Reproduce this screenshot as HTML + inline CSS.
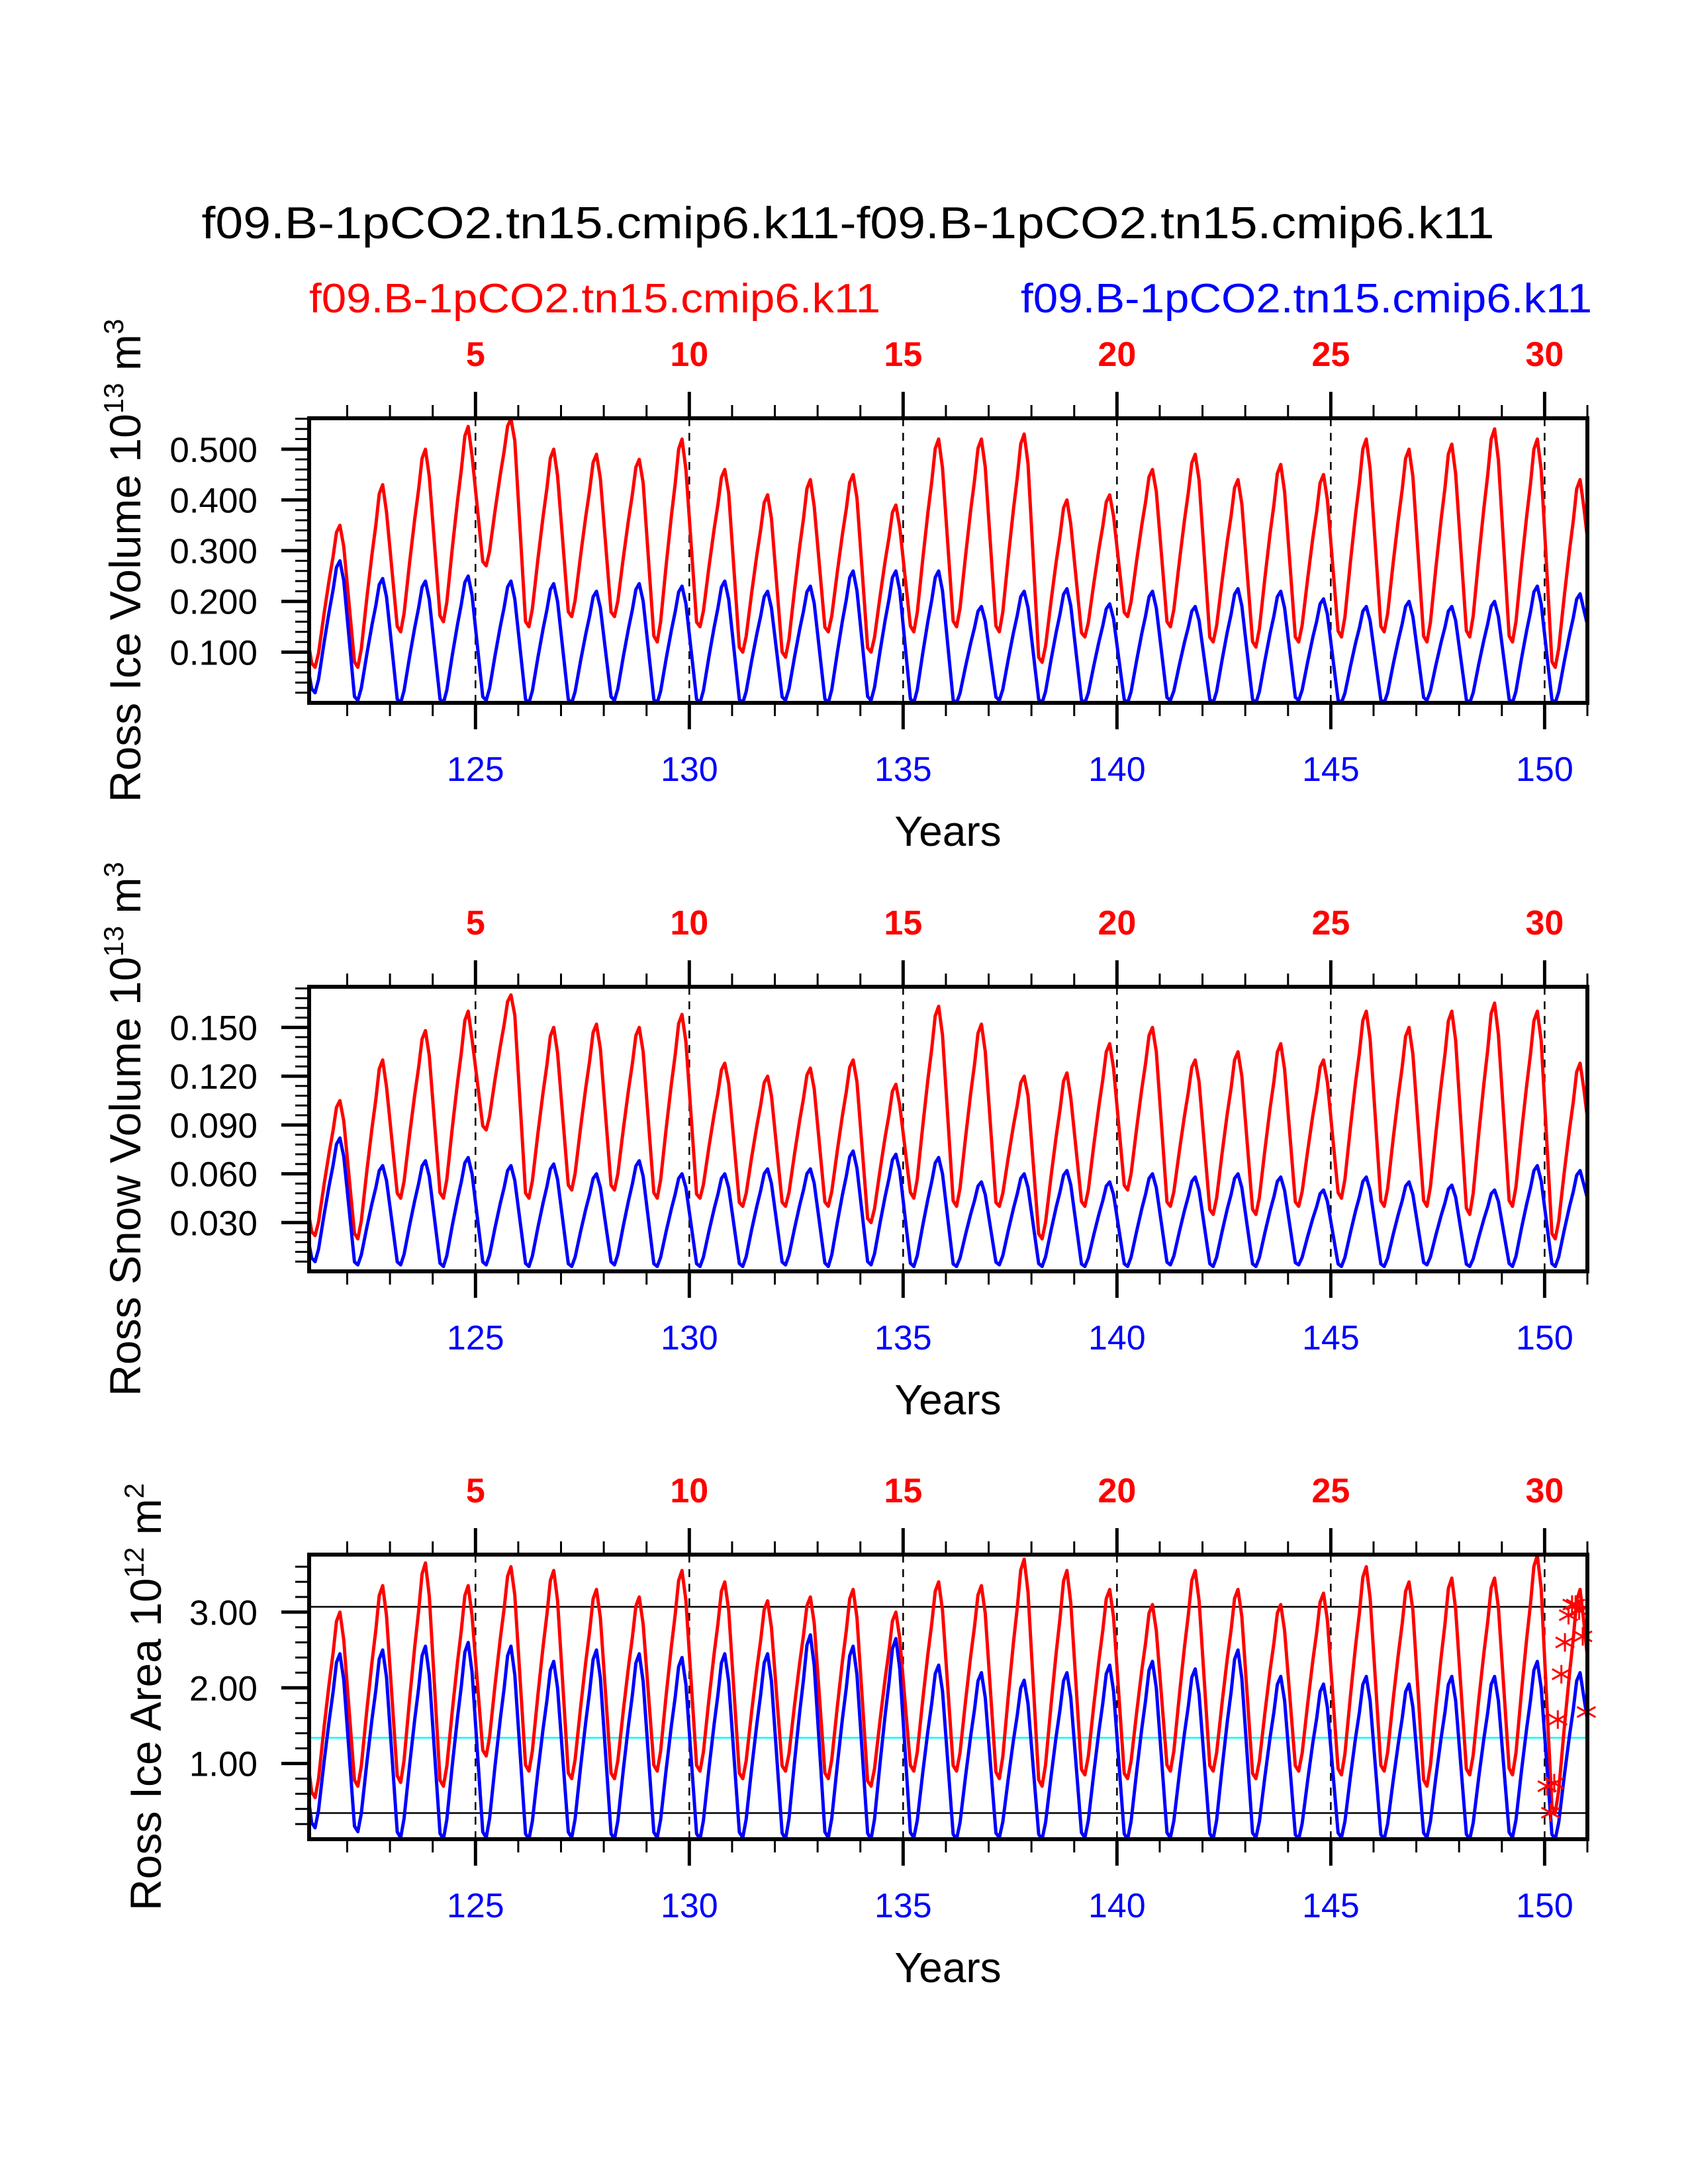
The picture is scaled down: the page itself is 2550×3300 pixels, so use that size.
<!DOCTYPE html>
<html><head><meta charset="utf-8"><style>
html,body{margin:0;padding:0;background:#fff}
svg{display:block;font-family:"Liberation Sans",Arial,sans-serif}
</style></head><body>
<svg id="chart" width="2550" height="3300" viewBox="0 0 2550 3300" xmlns="http://www.w3.org/2000/svg">
<rect x="0" y="0" width="2550" height="3300" fill="#fff"/>
<text x="1281" y="360" font-size="68" text-anchor="middle" textLength="1953" lengthAdjust="spacingAndGlyphs">f09.B-1pCO2.tn15.cmip6.k11-f09.B-1pCO2.tn15.cmip6.k11</text>
<text x="467" y="472" font-size="62" fill="#ff0000" textLength="863" lengthAdjust="spacingAndGlyphs">f09.B-1pCO2.tn15.cmip6.k11</text>
<text x="1542" y="472" font-size="62" fill="#0000ff" textLength="863" lengthAdjust="spacingAndGlyphs">f09.B-1pCO2.tn15.cmip6.k11</text>
<g id="plots"></g>
</svg>
<script>
// ---- data (annual extremes) ----
const years = [121,122,123,124,125,126,127,128,129,130,131,132,133,134,135,136,137,138,139,140,141,142,143,144,145,146,147,148,149,150];
const volRedMax = [0.35,0.43,0.50,0.545,0.56,0.50,0.49,0.48,0.52,0.46,0.41,0.44,0.45,0.39,0.52,0.52,0.53,0.40,0.41,0.46,0.49,0.44,0.47,0.45,0.52,0.50,0.51,0.54,0.52,0.44];
const volRedMin = [0.07,0.07,0.14,0.16,0.27,0.15,0.17,0.17,0.12,0.15,0.10,0.09,0.14,0.10,0.14,0.15,0.14,0.08,0.13,0.17,0.15,0.12,0.11,0.12,0.13,0.14,0.12,0.13,0.12,0.07];
const volBlueMax = [0.28,0.245,0.24,0.25,0.24,0.235,0.22,0.235,0.23,0.24,0.22,0.23,0.26,0.26,0.26,0.19,0.22,0.225,0.195,0.22,0.19,0.225,0.22,0.205,0.19,0.20,0.19,0.20,0.23,0.215];
const volBlueMin = [0.02,0.005,0.0,0.0,0.005,0.0,0.0,0.005,0.0,0.0,0.0,0.005,0.0,0.005,0.0,0.0,0.005,0.0,0.0,0.0,0.005,0.0,0.0,0.005,0.0,0.0,0.005,0.0,0.0,0.0];
const snowRedMax = [0.105,0.13,0.148,0.16,0.17,0.15,0.152,0.15,0.158,0.128,0.12,0.125,0.13,0.115,0.163,0.152,0.12,0.122,0.14,0.15,0.13,0.135,0.14,0.13,0.16,0.15,0.16,0.165,0.16,0.128];
const snowRedMin = [0.022,0.02,0.045,0.045,0.087,0.045,0.05,0.05,0.045,0.045,0.04,0.04,0.04,0.03,0.045,0.04,0.04,0.02,0.04,0.05,0.04,0.035,0.035,0.04,0.045,0.04,0.04,0.035,0.04,0.02];
const snowBlueMax = [0.082,0.065,0.068,0.07,0.065,0.066,0.06,0.068,0.06,0.06,0.063,0.063,0.074,0.072,0.07,0.055,0.06,0.062,0.055,0.06,0.058,0.06,0.058,0.05,0.058,0.055,0.053,0.05,0.065,0.062];
const snowBlueMin = [0.006,0.004,0.004,0.003,0.004,0.003,0.003,0.004,0.003,0.003,0.003,0.004,0.003,0.004,0.003,0.003,0.004,0.003,0.003,0.003,0.004,0.003,0.003,0.004,0.003,0.003,0.004,0.003,0.003,0.003];
const areaRedMax = [3.0,3.35,3.65,3.35,3.6,3.55,3.3,3.2,3.55,3.4,3.15,3.2,3.3,3.0,3.4,3.35,3.7,3.55,3.3,3.1,3.55,3.3,3.1,3.25,3.6,3.4,3.45,3.45,3.75,3.3];
const areaRedMin = [0.55,0.7,0.75,0.7,1.1,0.9,0.8,0.8,0.9,0.9,0.8,0.9,0.8,0.7,0.9,0.9,0.8,0.7,0.85,0.8,0.9,0.9,0.8,0.9,0.85,0.9,0.7,0.85,0.85,0.35];
const areaBlueMax = [2.45,2.5,2.55,2.6,2.55,2.35,2.5,2.45,2.4,2.45,2.45,2.7,2.55,2.65,2.3,2.2,2.1,2.2,2.3,2.35,2.25,2.5,2.15,2.05,2.15,2.05,2.15,2.15,2.35,2.2];
const areaBlueMin = [0.15,0.1,0.02,0.0,0.02,0.0,0.02,0.0,0.02,0.0,0.02,0.0,0.02,0.0,0.02,0.0,0.02,0.0,0.02,0.0,0.02,0.0,0.02,0.0,0.02,0.0,0.02,0.0,0.02,0.0];
// seasonal cycle shape within a year (fraction of year, fraction of min→max range)
const seasonPhase = [0.17,0.25,0.33,0.46,0.58,0.67,0.75,0.83,0.92];
const seasonFrac  = [0.03,0.0,0.1,0.38,0.62,0.78,0.95,1.0,0.85];
const markerMonths = [0,1,2,3,4,5,6,7,8,9,10,11];
const markerValues = [0.70,0.35,0.74,1.58,2.18,2.60,2.96,3.10,3.10,3.02,2.68,1.68];
const refLineValues = [3.07,0.345];
const refCyanValue = [1.34];
const topTickLabels = ["5","10","15","20","25","30"];
const bottomTickLabels = ["125","130","135","140","145","150"];
const volTicks = [0.1,0.2,0.3,0.4,0.5];
const volTickLabels = ["0.100","0.200","0.300","0.400","0.500"];
const snowTicks = [0.03,0.06,0.09,0.12,0.15];
const snowTickLabels = ["0.030","0.060","0.090","0.120","0.150"];
const areaTicks = [1,2,3];
const areaTickLabels = ["1.00","2.00","3.00"];

const NS = "http://www.w3.org/2000/svg";
const X0 = 467, X1 = 2398, XMIN = 121.11, XMAX = 151.0, PH = 430;
function xs(t){ return X0 + (t - XMIN) / (XMAX - XMIN) * (X1 - X0); }
function mk(tag, attrs, parent){ const e = document.createElementNS(NS, tag); for (const k in attrs) e.setAttribute(k, attrs[k]); parent.appendChild(e); return e; }
const root = document.getElementById('plots');

function seriesPoints(mins, maxs){
  const pts = [];
  for (let i = 0; i < years.length; i++){
    for (let k = 0; k < seasonPhase.length; k++){
      let lo = mins[i];
      if (k === 0 && i > 0) lo = mins[i] + (maxs[i-1] - mins[i]) * 0.0;
      pts.push([years[i] + seasonPhase[k], lo + (maxs[i] - lo) * seasonFrac[k]]);
    }
  }
  return pts;
}
function drawSeries(g, pts, ys, color, name, top){
  const cid = 'clip-' + name;
  const cp = mk('clipPath', {id: cid}, g);
  mk('rect', {x: X0, y: top, width: X1 - X0, height: PH}, cp);
  let d = 'M' + xs(XMIN - 0.1).toFixed(1) + ',' + ys(pts[0][1] + (pts[7][1] - pts[0][1]) * 0.3).toFixed(1);
  for (const p of pts) d += 'L' + xs(p[0]).toFixed(1) + ',' + ys(p[1]).toFixed(1);
  const last = pts[pts.length - 1], lo = pts[1];
  d += 'L' + xs(XMAX + 0.1).toFixed(1) + ',' + ys(last[1] * 0.65).toFixed(1);
  const path = mk('path', {d: d, fill: 'none', stroke: color, 'stroke-width': 5, 'stroke-linejoin': 'round', 'clip-path': 'url(#' + cid + ')'}, g);
  
  
}

function panel(cfg){
  const top = cfg.top, bot = top + PH;
  const ys = v => bot - (v - cfg.ymin) / (cfg.ymax - cfg.ymin) * PH;
  const g = mk('g', {}, root);
  
  
  if (cfg.refs){
    for (const v of refLineValues){
      const l = mk('line', {x1: X0, x2: X1, y1: ys(v), y2: ys(v), stroke: '#000', 'stroke-width': 2.5}, g);
      
      
    }
    for (const v of refCyanValue){
      const l = mk('line', {x1: X0, x2: X1, y1: ys(v), y2: ys(v), stroke: '#00ffff', 'stroke-width': 2.5}, g);
      
      
    }
  }
  for (let y = 125; y <= 150; y += 5){
    const l = mk('line', {x1: xs(y), x2: xs(y), y1: top, y2: bot, stroke: '#000', 'stroke-width': 2.5, 'stroke-dasharray': '12,10'}, g);
    
    
  }
  drawSeries(g, seriesPoints(cfg.redMin, cfg.redMax), ys, '#ff0000', cfg.name + '-red-series', top);
  drawSeries(g, seriesPoints(cfg.blueMin, cfg.blueMax), ys, '#0000ff', cfg.name + '-blue-series', top);
  if (cfg.markers){
    for (let i = 0; i < markerMonths.length; i++){
      const cx = xs(150 + (markerMonths[i] + 0.7) / 12), cy = ys(markerValues[i]), r = 14;
      const m = mk('path', {d: `M${cx-r},${cy-r*0.55}L${cx+r},${cy+r*0.55}M${cx-r},${cy+r*0.55}L${cx+r},${cy-r*0.55}M${cx},${cy-r}L${cx},${cy+r}`, stroke: '#ff0000', 'stroke-width': 3, fill: 'none'}, g);
      
      
    }
  }
  const fr = mk('rect', {x: X0, y: top, width: X1 - X0, height: PH, fill: 'none', stroke: '#000', 'stroke-width': 6}, g);
  
  
  for (let y = 122; y <= 151; y++){
    const major = (y % 5 === 0);
    const len = major ? 40 : 20;
    mk('line', {x1: xs(y), x2: xs(y), y1: top, y2: top - len, stroke: '#000', 'stroke-width': major ? 5 : 3}, g);
    mk('line', {x1: xs(y), x2: xs(y), y1: bot, y2: bot + len, stroke: '#000', 'stroke-width': major ? 5 : 3}, g);
  }
  for (let i = 0; i < 6; i++){
    const yr = 125 + i * 5;
    const t1 = mk('text', {x: xs(yr), y: top - 79, 'font-size': 52, 'font-weight': 'bold', fill: '#ff0000', 'text-anchor': 'middle'}, g);
    t1.textContent = topTickLabels[i];
    
    
    const t2 = mk('text', {x: xs(yr), y: top + 548, 'font-size': 52, fill: '#0000ff', 'text-anchor': 'middle'}, g);
    t2.textContent = bottomTickLabels[i];
    
    
  }
  const xt = mk('text', {x: 1432, y: top + 646, 'font-size': 64, 'text-anchor': 'middle'}, g);
  xt.textContent = 'Years';
  
  
  for (let v = cfg.ymin + cfg.minor; v <= cfg.ymax + 1e-9; v += cfg.minor){
    mk('line', {x1: X0, x2: X0 - 21, y1: ys(v), y2: ys(v), stroke: '#000', 'stroke-width': 3}, g);
  }
  for (let i = 0; i < cfg.ticks.length; i++){
    const v = cfg.ticks[i];
    mk('line', {x1: X0, x2: X0 - 42, y1: ys(v), y2: ys(v), stroke: '#000', 'stroke-width': 5}, g);
    const t = mk('text', {x: 389, y: ys(v) + 19, 'font-size': 53, 'text-anchor': 'end'}, g);
    t.textContent = cfg.tickLabels[i];
    
    
  }
  const cx = cfg.titleX, cy = top + 215;
  const yt = mk('text', {x: cx, y: cy, 'font-size': 66, 'text-anchor': 'middle', transform: `rotate(-90 ${cx} ${cy})`}, g);
  
  
  const a = mk('tspan', {}, yt); a.textContent = cfg.title + ' 10';
  const b = mk('tspan', {dy: -26, 'font-size': 42}, yt); b.textContent = cfg.exp;
  const c = mk('tspan', {dy: 26}, yt); c.textContent = '\u00a0m';
  const d = mk('tspan', {dy: -26, 'font-size': 42}, yt); d.textContent = cfg.unitExp;
}

panel({name: 'ice-volume-panel', top: 632, ymin: 0, ymax: 0.561, minor: 0.02, ticks: volTicks, tickLabels: volTickLabels,
  redMin: volRedMin, redMax: volRedMax, blueMin: volBlueMin, blueMax: volBlueMax, title: 'Ross Ice Volume', exp: '13', unitExp: '3', titleX: 212});
panel({name: 'snow-volume-panel', top: 1491, ymin: 0, ymax: 0.175, minor: 0.006, ticks: snowTicks, tickLabels: snowTickLabels,
  redMin: snowRedMin, redMax: snowRedMax, blueMin: snowBlueMin, blueMax: snowBlueMax, title: 'Ross Snow Volume', exp: '13', unitExp: '3', titleX: 212});
panel({name: 'ice-area-panel', top: 2349, ymin: 0, ymax: 3.76, minor: 0.2, ticks: areaTicks, tickLabels: areaTickLabels,
  redMin: areaRedMin, redMax: areaRedMax, blueMin: areaBlueMin, blueMax: areaBlueMax, title: 'Ross Ice Area', exp: '12', unitExp: '2', titleX: 243, refs: true, markers: true});
</script>
</body></html>
